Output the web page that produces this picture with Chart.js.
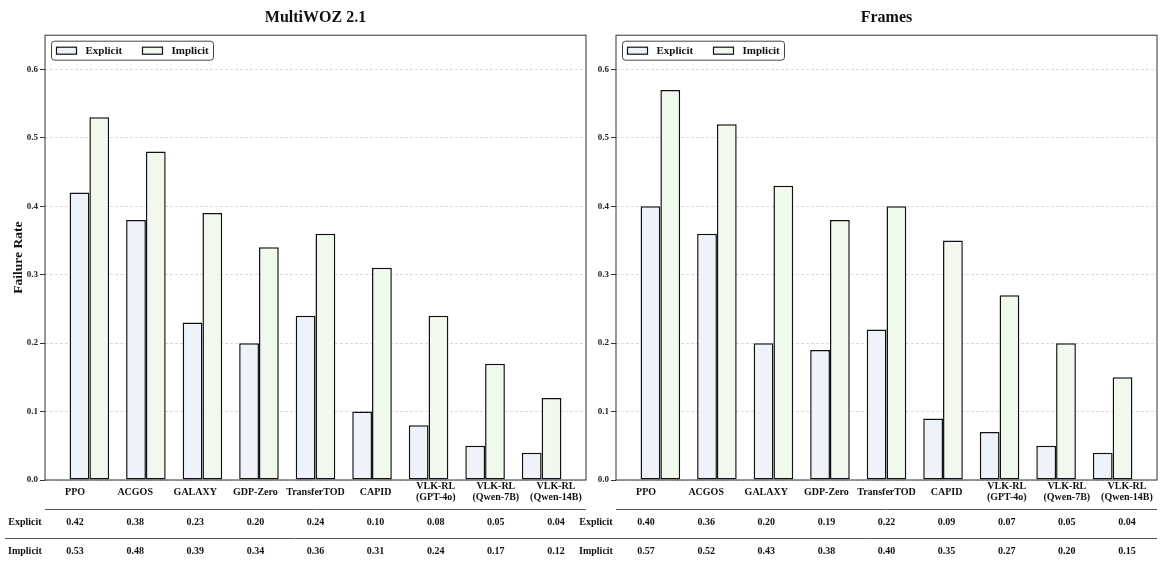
<!DOCTYPE html>
<html>
<head>
<meta charset="utf-8">
<script src="https://cdn.jsdelivr.net/npm/chart.js@4"></script>
<style>
  html, body { margin: 0; padding: 0; background: #fff; }
  #page { position: relative; width: 1160px; height: 563px; overflow: hidden; }
  .panel { position: absolute; top: 0; height: 563px; }
  #leftBox { left: 0; width: 590px; }
  #rightBox { left: 560px; width: 600px; }
</style>
</head>
<body>
<div id="page">
  <div class="panel" id="leftBox"><canvas id="chartLeft"></canvas></div>
  <div class="panel" id="rightBox"><canvas id="chartRight"></canvas></div>
</div>
<script>
// categories / tick labels
const categories = [
  ["PPO"], ["ACGOS"], ["GALAXY"], ["GDP-Zero"], ["TransferTOD"], ["CAPID"],
  ["VLK-RL", "(GPT-4o)"], ["VLK-RL", "(Qwen-7B)"], ["VLK-RL", "(Qwen-14B)"],
];
const yTicks = [0, 0.1, 0.2, 0.3, 0.4, 0.5, 0.6];
const seriesNames = ["Explicit", "Implicit"];

// MultiWOZ 2.1
const multiwozExplicit = [0.42, 0.38, 0.23, 0.20, 0.24, 0.10, 0.08, 0.05, 0.04];
const multiwozImplicit = [0.53, 0.48, 0.39, 0.34, 0.36, 0.31, 0.24, 0.17, 0.12];

// Frames
const framesExplicit = [0.40, 0.36, 0.20, 0.19, 0.22, 0.09, 0.07, 0.05, 0.04];
const framesImplicit = [0.57, 0.52, 0.43, 0.38, 0.40, 0.35, 0.27, 0.20, 0.15];

const SERIF = "'Liberation Serif', 'Times New Roman', serif";
Chart.defaults.font.family = SERIF;
Chart.defaults.color = "#111";

const explicitColor = "#eef3f9";
const implicitColor = "#f1f8ee";

// 枠・凡例・下の表を描くプラグイン
const panelDecor = {
  id: "panelDecor",
  afterDraw(chart) {
    const ctx = chart.ctx;
    const { left, right, top, bottom } = chart.chartArea;
    const ds = chart.data.datasets;
    ctx.save();

    // plot frame
    ctx.strokeStyle = "#333";
    ctx.lineWidth = 1;
    ctx.strokeRect(left, top, right - left, bottom - top);

    // legend
    const bx = left + 6.5, by = top + 6, bw = 162, bh = 19;
    ctx.beginPath();
    ctx.roundRect(bx, by, bw, bh, 3);
    ctx.fillStyle = "rgba(255,255,255,0.85)";
    ctx.fill();
    ctx.strokeStyle = "#444";
    ctx.stroke();
    ctx.font = "bold 11px " + SERIF;
    ctx.textBaseline = "middle";
    ctx.textAlign = "left";
    ds.forEach((d, i) => {
      const sx = bx + 5 + i * 86;
      ctx.fillStyle = d.backgroundColor;
      ctx.fillRect(sx, by + 6, 20, 7);
      ctx.strokeStyle = "#111";
      ctx.lineWidth = 1.2;
      ctx.strokeRect(sx, by + 6, 20, 7);
      ctx.fillStyle = "#111";
      ctx.fillText(d.label, sx + 29, by + bh / 2 + 0.5);
    });

    // table under the axes
    const n = categories.length;
    const cw = (right - left) / n;
    ctx.font = "bold 10px " + SERIF;
    ctx.textAlign = "center";
    ctx.fillStyle = "#111";
    categories.forEach((lines, i) => {
      const cx = left + cw * (i + 0.5);
      if (lines.length === 1) {
        ctx.fillText(lines[0], cx, bottom + 12);
      } else {
        ctx.fillText(lines[0], cx, bottom + 6);
        ctx.fillText(lines[1], cx, bottom + 17.5);
      }
    });

    ctx.strokeStyle = "#555";
    ctx.lineWidth = 1;
    ctx.beginPath();
    ctx.moveTo(left, bottom + 29.5);
    ctx.lineTo(right, bottom + 29.5);
    ctx.moveTo(left - 40, bottom + 58.5);
    ctx.lineTo(right, bottom + 58.5);
    ctx.stroke();

    const rowY = [bottom + 42, bottom + 71];
    ds.forEach((d, r) => {
      ctx.fillStyle = "#111";
      ctx.fillText(d.label, left - 20, rowY[r]);
      d.data.forEach((p, i) => {
        ctx.fillText(p.y.toFixed(2), left + cw * (i + 0.5), rowY[r]);
      });
    });

    ctx.restore();
  },
};

function makePanel(canvasId, title, explicitVals, implicitVals, showYTitle, yWidth, padRight) {
  const toPoints = (vals) => vals.map((v, i) => ({ x: i, y: v }));
  return new Chart(document.getElementById(canvasId), {
    type: "bar",
    data: {
      datasets: [
        {
          label: seriesNames[0],
          data: toPoints(explicitVals),
          backgroundColor: explicitColor,
          borderColor: "#111",
          borderWidth: 1.5,
          borderSkipped: false,
          categoryPercentage: 0.7,
          barPercentage: 1.0,
        },
        {
          label: seriesNames[1],
          data: toPoints(implicitVals),
          backgroundColor: implicitColor,
          borderColor: "#111",
          borderWidth: 1.5,
          borderSkipped: false,
          categoryPercentage: 0.7,
          barPercentage: 1.0,
        },
      ],
    },
    options: {
      responsive: true,
      maintainAspectRatio: false,
      animation: false,
      layout: { padding: { left: 0, right: padRight, top: 0, bottom: 0 } },
      scales: {
        x: {
          type: "linear",
          offset: false,
          min: -0.785,
          max: categories.length - 1 + 0.785,
          grid: { display: false, offset: false },
          border: { display: false },
          ticks: { display: false },
          afterFit(scale) {
            scale.height = 83;
          },
        },
        y: {
          min: 0,
          max: 0.65,
          afterBuildTicks(scale) {
            scale.ticks = yTicks.map((v) => ({ value: v }));
          },
          ticks: {
            callback: (v) => Number(v).toFixed(1),
            font: { size: 9, weight: "bold" },
            color: "#222",
            padding: 2,
          },
          grid: {
            color: "#d2d2d2",
            lineWidth: 0.8,
            tickColor: "#333",
            tickLength: 5,
            tickWidth: 1,
            tickBorderDash: [],
          },
          border: { display: false, dash: [3, 2] },
          title: {
            display: showYTitle,
            text: "Failure Rate",
            font: { size: 13.5, weight: "bold" },
            color: "#111",
            padding: { top: 10, bottom: 0 },
          },
          afterFit(scale) {
            scale.width = yWidth;
          },
        },
      },
      plugins: {
        legend: { display: false },
        tooltip: { enabled: false },
        title: {
          display: true,
          text: title,
          fullSize: false,
          font: { size: 16, weight: "bold" },
          color: "#111",
          padding: { top: 8, bottom: 8 },
        },
      },
    },
    plugins: [panelDecor],
  });
}

makePanel("chartLeft", "MultiWOZ 2.1", multiwozExplicit, multiwozImplicit, true, 45, 4);
makePanel("chartRight", "Frames", framesExplicit, framesImplicit, false, 56, 3);
</script>
</body>
</html>
